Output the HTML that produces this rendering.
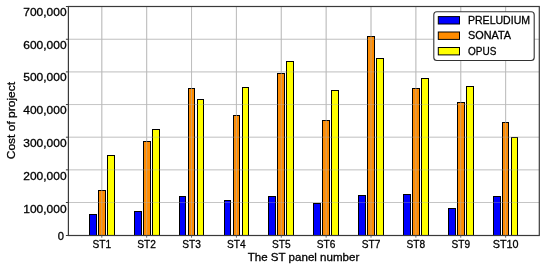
<!DOCTYPE html><html><head><meta charset="utf-8"><style>html,body{margin:0;padding:0;background:#fff;}svg{display:block;}text{font-family:"Liberation Sans",sans-serif;fill:#000;stroke:#000;stroke-width:0.3px;}svg{will-change:transform;}</style></head><body>
<svg width="550" height="266" viewBox="0 0 550 266">
<rect x="0" y="0" width="550" height="266" fill="#fff"/>
<line x1="68.4" y1="202.50" x2="539.3" y2="202.50" stroke="#d2d2d2" stroke-width="1"/>
<line x1="68.4" y1="169.85" x2="539.3" y2="169.85" stroke="#d2d2d2" stroke-width="1"/>
<line x1="68.4" y1="137.20" x2="539.3" y2="137.20" stroke="#d2d2d2" stroke-width="1"/>
<line x1="68.4" y1="104.55" x2="539.3" y2="104.55" stroke="#d2d2d2" stroke-width="1"/>
<line x1="68.4" y1="71.90" x2="539.3" y2="71.90" stroke="#d2d2d2" stroke-width="1"/>
<line x1="68.4" y1="39.25" x2="539.3" y2="39.25" stroke="#d2d2d2" stroke-width="1"/>
<line x1="101.80" y1="6.5" x2="101.80" y2="235.5" stroke="#d2d2d2" stroke-width="1"/>
<line x1="146.67" y1="6.5" x2="146.67" y2="235.5" stroke="#d2d2d2" stroke-width="1"/>
<line x1="191.54" y1="6.5" x2="191.54" y2="235.5" stroke="#d2d2d2" stroke-width="1"/>
<line x1="236.41" y1="6.5" x2="236.41" y2="235.5" stroke="#d2d2d2" stroke-width="1"/>
<line x1="281.28" y1="6.5" x2="281.28" y2="235.5" stroke="#d2d2d2" stroke-width="1"/>
<line x1="326.15" y1="6.5" x2="326.15" y2="235.5" stroke="#d2d2d2" stroke-width="1"/>
<line x1="371.02" y1="6.5" x2="371.02" y2="235.5" stroke="#d2d2d2" stroke-width="1"/>
<line x1="415.89" y1="6.5" x2="415.89" y2="235.5" stroke="#d2d2d2" stroke-width="1"/>
<line x1="460.76" y1="6.5" x2="460.76" y2="235.5" stroke="#d2d2d2" stroke-width="1"/>
<line x1="505.63" y1="6.5" x2="505.63" y2="235.5" stroke="#d2d2d2" stroke-width="1"/>
<rect x="89.50" y="214.50" width="7.00" height="21.00" fill="#0000ff" stroke="#000" stroke-width="1.0"/>
<rect x="98.50" y="190.50" width="7.00" height="45.00" fill="#ff8c00" stroke="#000" stroke-width="1.0"/>
<rect x="107.50" y="155.50" width="7.00" height="80.00" fill="#ffff00" stroke="#000" stroke-width="1.0"/>
<rect x="134.50" y="211.50" width="7.00" height="24.00" fill="#0000ff" stroke="#000" stroke-width="1.0"/>
<rect x="143.50" y="141.50" width="7.00" height="94.00" fill="#ff8c00" stroke="#000" stroke-width="1.0"/>
<rect x="152.50" y="129.50" width="7.00" height="106.00" fill="#ffff00" stroke="#000" stroke-width="1.0"/>
<rect x="179.50" y="196.50" width="6.00" height="39.00" fill="#0000ff" stroke="#000" stroke-width="1.0"/>
<rect x="188.50" y="88.50" width="6.00" height="147.00" fill="#ff8c00" stroke="#000" stroke-width="1.0"/>
<rect x="197.50" y="99.50" width="6.00" height="136.00" fill="#ffff00" stroke="#000" stroke-width="1.0"/>
<rect x="224.50" y="200.50" width="6.00" height="35.00" fill="#0000ff" stroke="#000" stroke-width="1.0"/>
<rect x="233.50" y="115.50" width="6.00" height="120.00" fill="#ff8c00" stroke="#000" stroke-width="1.0"/>
<rect x="242.50" y="87.50" width="6.00" height="148.00" fill="#ffff00" stroke="#000" stroke-width="1.0"/>
<rect x="268.50" y="196.50" width="7.00" height="39.00" fill="#0000ff" stroke="#000" stroke-width="1.0"/>
<rect x="277.50" y="73.50" width="7.00" height="162.00" fill="#ff8c00" stroke="#000" stroke-width="1.0"/>
<rect x="286.50" y="61.50" width="7.00" height="174.00" fill="#ffff00" stroke="#000" stroke-width="1.0"/>
<rect x="313.50" y="203.50" width="7.00" height="32.00" fill="#0000ff" stroke="#000" stroke-width="1.0"/>
<rect x="322.50" y="120.50" width="7.00" height="115.00" fill="#ff8c00" stroke="#000" stroke-width="1.0"/>
<rect x="331.50" y="90.50" width="7.00" height="145.00" fill="#ffff00" stroke="#000" stroke-width="1.0"/>
<rect x="358.50" y="195.50" width="7.00" height="40.00" fill="#0000ff" stroke="#000" stroke-width="1.0"/>
<rect x="367.50" y="36.50" width="7.00" height="199.00" fill="#ff8c00" stroke="#000" stroke-width="1.0"/>
<rect x="376.50" y="58.50" width="7.00" height="177.00" fill="#ffff00" stroke="#000" stroke-width="1.0"/>
<rect x="403.50" y="194.50" width="7.00" height="41.00" fill="#0000ff" stroke="#000" stroke-width="1.0"/>
<rect x="412.50" y="88.50" width="7.00" height="147.00" fill="#ff8c00" stroke="#000" stroke-width="1.0"/>
<rect x="421.50" y="78.50" width="7.00" height="157.00" fill="#ffff00" stroke="#000" stroke-width="1.0"/>
<rect x="448.50" y="208.50" width="7.00" height="27.00" fill="#0000ff" stroke="#000" stroke-width="1.0"/>
<rect x="457.50" y="102.50" width="7.00" height="133.00" fill="#ff8c00" stroke="#000" stroke-width="1.0"/>
<rect x="466.50" y="86.50" width="7.00" height="149.00" fill="#ffff00" stroke="#000" stroke-width="1.0"/>
<rect x="493.50" y="196.50" width="7.00" height="39.00" fill="#0000ff" stroke="#000" stroke-width="1.0"/>
<rect x="502.50" y="122.50" width="6.00" height="113.00" fill="#ff8c00" stroke="#000" stroke-width="1.0"/>
<rect x="511.50" y="137.50" width="6.00" height="98.00" fill="#ffff00" stroke="#000" stroke-width="1.0"/>
<line x1="68.4" y1="202.50" x2="539.3" y2="202.50" stroke="#b0b0b0" stroke-opacity="0.35" stroke-width="1"/>
<line x1="68.4" y1="169.85" x2="539.3" y2="169.85" stroke="#b0b0b0" stroke-opacity="0.35" stroke-width="1"/>
<line x1="68.4" y1="137.20" x2="539.3" y2="137.20" stroke="#b0b0b0" stroke-opacity="0.35" stroke-width="1"/>
<line x1="68.4" y1="104.55" x2="539.3" y2="104.55" stroke="#b0b0b0" stroke-opacity="0.35" stroke-width="1"/>
<line x1="68.4" y1="71.90" x2="539.3" y2="71.90" stroke="#b0b0b0" stroke-opacity="0.35" stroke-width="1"/>
<line x1="68.4" y1="39.25" x2="539.3" y2="39.25" stroke="#b0b0b0" stroke-opacity="0.35" stroke-width="1"/>
<line x1="101.80" y1="6.5" x2="101.80" y2="235.5" stroke="#b0b0b0" stroke-opacity="0.6" stroke-width="1"/>
<line x1="146.67" y1="6.5" x2="146.67" y2="235.5" stroke="#b0b0b0" stroke-opacity="0.6" stroke-width="1"/>
<line x1="191.54" y1="6.5" x2="191.54" y2="235.5" stroke="#b0b0b0" stroke-opacity="0.6" stroke-width="1"/>
<line x1="236.41" y1="6.5" x2="236.41" y2="235.5" stroke="#b0b0b0" stroke-opacity="0.6" stroke-width="1"/>
<line x1="281.28" y1="6.5" x2="281.28" y2="235.5" stroke="#b0b0b0" stroke-opacity="0.6" stroke-width="1"/>
<line x1="326.15" y1="6.5" x2="326.15" y2="235.5" stroke="#b0b0b0" stroke-opacity="0.6" stroke-width="1"/>
<line x1="371.02" y1="6.5" x2="371.02" y2="235.5" stroke="#b0b0b0" stroke-opacity="0.6" stroke-width="1"/>
<line x1="415.89" y1="6.5" x2="415.89" y2="235.5" stroke="#b0b0b0" stroke-opacity="0.6" stroke-width="1"/>
<line x1="460.76" y1="6.5" x2="460.76" y2="235.5" stroke="#b0b0b0" stroke-opacity="0.6" stroke-width="1"/>
<line x1="505.63" y1="6.5" x2="505.63" y2="235.5" stroke="#b0b0b0" stroke-opacity="0.6" stroke-width="1"/>
<rect x="68.4" y="6.5" width="470.90" height="229.00" fill="none" stroke="#3a3a3a" stroke-width="1.2"/>
<line x1="65.9" y1="235.50" x2="68.4" y2="235.50" stroke="#3a3a3a" stroke-width="1"/>
<line x1="65.9" y1="202.50" x2="68.4" y2="202.50" stroke="#3a3a3a" stroke-width="1"/>
<line x1="65.9" y1="169.85" x2="68.4" y2="169.85" stroke="#3a3a3a" stroke-width="1"/>
<line x1="65.9" y1="137.20" x2="68.4" y2="137.20" stroke="#3a3a3a" stroke-width="1"/>
<line x1="65.9" y1="104.55" x2="68.4" y2="104.55" stroke="#3a3a3a" stroke-width="1"/>
<line x1="65.9" y1="71.90" x2="68.4" y2="71.90" stroke="#3a3a3a" stroke-width="1"/>
<line x1="65.9" y1="39.25" x2="68.4" y2="39.25" stroke="#3a3a3a" stroke-width="1"/>
<line x1="65.9" y1="6.50" x2="68.4" y2="6.50" stroke="#3a3a3a" stroke-width="1"/>
<line x1="101.80" y1="235.5" x2="101.80" y2="237.7" stroke="#555" stroke-width="0.9"/>
<line x1="146.67" y1="235.5" x2="146.67" y2="237.7" stroke="#555" stroke-width="0.9"/>
<line x1="191.54" y1="235.5" x2="191.54" y2="237.7" stroke="#555" stroke-width="0.9"/>
<line x1="236.41" y1="235.5" x2="236.41" y2="237.7" stroke="#555" stroke-width="0.9"/>
<line x1="281.28" y1="235.5" x2="281.28" y2="237.7" stroke="#555" stroke-width="0.9"/>
<line x1="326.15" y1="235.5" x2="326.15" y2="237.7" stroke="#555" stroke-width="0.9"/>
<line x1="371.02" y1="235.5" x2="371.02" y2="237.7" stroke="#555" stroke-width="0.9"/>
<line x1="415.89" y1="235.5" x2="415.89" y2="237.7" stroke="#555" stroke-width="0.9"/>
<line x1="460.76" y1="235.5" x2="460.76" y2="237.7" stroke="#555" stroke-width="0.9"/>
<line x1="505.63" y1="235.5" x2="505.63" y2="237.7" stroke="#555" stroke-width="0.9"/>
<text x="66.6" y="15.80" font-size="11.2" text-anchor="end" textLength="43.3" lengthAdjust="spacingAndGlyphs">700,000</text>
<text x="66.6" y="48.59" font-size="11.2" text-anchor="end" textLength="43.3" lengthAdjust="spacingAndGlyphs">600,000</text>
<text x="66.6" y="81.38" font-size="11.2" text-anchor="end" textLength="43.3" lengthAdjust="spacingAndGlyphs">500,000</text>
<text x="66.6" y="114.17" font-size="11.2" text-anchor="end" textLength="43.3" lengthAdjust="spacingAndGlyphs">400,000</text>
<text x="66.6" y="146.96" font-size="11.2" text-anchor="end" textLength="43.3" lengthAdjust="spacingAndGlyphs">300,000</text>
<text x="66.6" y="179.75" font-size="11.2" text-anchor="end" textLength="43.3" lengthAdjust="spacingAndGlyphs">200,000</text>
<text x="66.6" y="212.54" font-size="11.2" text-anchor="end" textLength="43.3" lengthAdjust="spacingAndGlyphs">100,000</text>
<text x="64.0" y="239.7" font-size="11.2" text-anchor="end">0</text>
<text x="101.80" y="248.0" font-size="11.2" text-anchor="middle" textLength="18.6" lengthAdjust="spacingAndGlyphs">ST1</text>
<text x="146.67" y="248.0" font-size="11.2" text-anchor="middle" textLength="18.6" lengthAdjust="spacingAndGlyphs">ST2</text>
<text x="191.54" y="248.0" font-size="11.2" text-anchor="middle" textLength="18.6" lengthAdjust="spacingAndGlyphs">ST3</text>
<text x="236.41" y="248.0" font-size="11.2" text-anchor="middle" textLength="18.6" lengthAdjust="spacingAndGlyphs">ST4</text>
<text x="281.28" y="248.0" font-size="11.2" text-anchor="middle" textLength="18.6" lengthAdjust="spacingAndGlyphs">ST5</text>
<text x="326.15" y="248.0" font-size="11.2" text-anchor="middle" textLength="18.6" lengthAdjust="spacingAndGlyphs">ST6</text>
<text x="371.02" y="248.0" font-size="11.2" text-anchor="middle" textLength="18.6" lengthAdjust="spacingAndGlyphs">ST7</text>
<text x="415.89" y="248.0" font-size="11.2" text-anchor="middle" textLength="18.6" lengthAdjust="spacingAndGlyphs">ST8</text>
<text x="460.76" y="248.0" font-size="11.2" text-anchor="middle" textLength="18.6" lengthAdjust="spacingAndGlyphs">ST9</text>
<text x="505.63" y="248.0" font-size="11.2" text-anchor="middle" textLength="25.8" lengthAdjust="spacingAndGlyphs">ST10</text>
<text x="303.5" y="260.5" font-size="11.2" text-anchor="middle" textLength="111.5" lengthAdjust="spacingAndGlyphs">The ST panel number</text>
<text transform="translate(15,120.6) rotate(-90)" x="0" y="0" font-size="11.2" text-anchor="middle" textLength="77.3" lengthAdjust="spacingAndGlyphs">Cost of project</text>
<rect x="433.8" y="11.7" width="100.4" height="48.85" rx="3" ry="3" fill="#fff" stroke="#333" stroke-width="1.1"/>
<rect x="438.3" y="16.60" width="21.2" height="7.4" fill="#0000ff" stroke="#000" stroke-width="1"/>
<text x="468.0" y="24.1" font-size="11.2" textLength="62.0" lengthAdjust="spacingAndGlyphs">PRELUDIUM</text>
<rect x="438.3" y="32.00" width="21.2" height="7.4" fill="#ff8c00" stroke="#000" stroke-width="1"/>
<text x="468.0" y="39.3" font-size="11.2" textLength="43.0" lengthAdjust="spacingAndGlyphs">SONATA</text>
<rect x="438.3" y="47.50" width="21.2" height="7.4" fill="#ffff00" stroke="#000" stroke-width="1"/>
<text x="468.0" y="54.6" font-size="11.2" textLength="28.3" lengthAdjust="spacingAndGlyphs">OPUS</text>
</svg></body></html>
